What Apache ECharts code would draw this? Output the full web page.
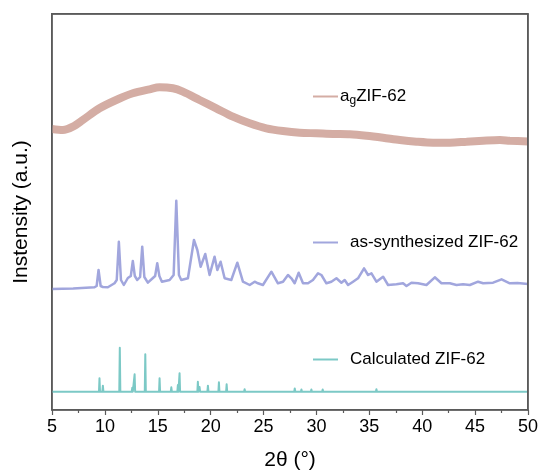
<!DOCTYPE html>
<html>
<head>
<meta charset="utf-8">
<script src="https://cdn.jsdelivr.net/npm/echarts@6/dist/echarts.min.js"></script>
<style>
html,body{margin:0;padding:0;background:#fff;}
#chart{width:542px;height:476px;}
</style>
</head>
<body>
<div id="chart"></div>
<script>
// ---- data (2θ in degrees, intensity in offset arbitrary units) ----
const seriesNames = ['agZIF-62', 'as-synthesized ZIF-62', 'Calculated ZIF-62'];

const amorphous = [[5,281],[6.02,280],[6.97,283.3],[7.91,290],[9.49,301.7],[11.07,310],[12.64,316.7],
  [14.22,320.7],[15.17,322.7],[16.43,321.7],[17.37,318.3],[18.95,310],[20.53,301.7],[22.1,293.3],
  [23.69,286.7],[25.26,281.7],[26.84,279],[28.42,277.3],[29.99,276.7],[31.57,276],[33.15,275.7],
  [34.73,274.3],[36.3,272.3],[37.88,270],[39.46,268.3],[41.03,267.3],[42.61,267.3],[44.19,268.3],
  [45.76,269.3],[47.34,270],[48.28,269.3],[50,268.5]];

const asSynthesized = [[5,121],[7,121.5],[9.02,122.7],[9.22,124],[9.40,140],[9.6,124],[9.81,123],[10.28,122.7],
  [10.91,126.7],[11.12,130],[11.32,168.3],[11.52,130],[11.79,125],[12.17,132],[12.45,134],[12.64,149],[12.83,134],
  [13.06,130],[13.33,133],[13.53,163.3],[13.73,133],[14.06,127.3],[14.54,132],[14.75,134],[14.95,146.7],[15.15,134],
  [15.39,128.3],[16.12,130],[16.5,135],[16.75,209.3],[17.0,135],[17.22,130],[17.85,131.7],[18.42,170],[18.74,160],
  [19.05,143.3],[19.49,156],[19.90,135],[20.37,153.3],[20.63,140],[20.94,148.3],[21.32,131.7],[21.95,130],
  [22.52,147.3],[23.05,128.3],[23.69,125],[24.16,128.3],[24.47,126.7],[24.94,125],[25.74,138.3],[26.36,126.7],
  [26.84,128.3],[27.31,135],[27.63,131.7],[27.94,126.7],[28.32,137.3],[28.73,126.7],[29.20,126.7],[29.67,130],
  [30.15,136.7],[30.47,135],[30.94,126.7],[31.41,128.3],[31.89,131.7],[32.36,127.3],[32.67,130],[32.99,125],
  [33.46,128.3],[33.93,131.7],[34.50,141.7],[34.88,135],[35.20,136.7],[35.67,128.3],[36.30,133.3],[36.77,125],
  [37.56,125.7],[38.19,126.7],[38.51,124],[38.98,127.3],[39.61,126.7],[40.40,125],[41.19,132.7],[41.82,126.7],
  [42.61,126.7],[43.24,125],[43.86,125.7],[44.50,125],[45.28,128.3],[45.76,126.7],[46.70,127.3],[47.50,130.7],
  [48.28,126.7],[49.0,127],[50,126]];

const calcBaseline = 18.3;
const calcPeakTheta = [9.49, 9.81, 11.41, 12.59, 12.81, 13.82, 15.17, 16.28, 16.90, 17.06, 18.79, 18.95, 19.74,
  20.78, 21.51, 22.90, 23.21, 25.58, 27.0, 27.95, 28.58, 29.52, 30.59, 31.25, 32.83, 34.38, 35.67, 36.62,
  38.16, 40.72, 44.5, 47.02];
const calcPeakI = [31.7, 24.3, 62.3, 22.3, 35.7, 55.7, 31.7, 22.7, 25, 36.7, 28.3, 23, 24.3,
  27.7, 25.7, 20, 20.8, 20.3, 20.3, 21.5, 20.5, 20.5, 20.5, 20.3, 20.3, 20.3, 20.8, 20.3,
  19.8, 19.8, 19.8, 19.8];

const xTickMin = 5, xTickMax = 50, xTickStep = 5;
const yMin = 0, yMax = 396;

// ---- build the stick-like calculated pattern from its peak list ----
function buildCalc() {
  const hw = 0.05;
  const pts = [[xTickMin, calcBaseline]];
  calcPeakTheta.forEach((p, i) => {
    pts.push([p - hw, calcBaseline], [p, calcPeakI[i]], [p + hw, calcBaseline]);
  });
  pts.push([xTickMax, calcBaseline]);
  return pts;
}

const FONT = 'Liberation Sans, Arial, Helvetica, sans-serif';
const frame = '#5a5a5a';
const colors = ['#d4ada4', '#a1a6dd', '#7cc9c6'];
const GRID = {left: 52, right: 14, top: 14, bottom: 66};
const W = 542, H = 476;

const chart = echarts.init(document.getElementById('chart'), null, {renderer: 'canvas'});

const richText = {
  n: {fontFamily: FONT, fontSize: 17, fill: '#000', color: '#000'},
  s: {fontFamily: FONT, fontSize: 12, fill: '#000', color: '#000', padding: [9, 0, 0, 0]}
};

function legendGraphic(color, y, textX, text) {
  return [
    {type: 'line', shape: {x1: 313, y1: y + 0.5, x2: 338, y2: y + 0.5}, style: {stroke: color, lineWidth: 2}, silent: true},
    {type: 'text', x: textX, y: y, silent: true,
     style: {text: text, rich: richText, font: '17px ' + FONT, fill: '#000', verticalAlign: 'middle', align: 'left'}}
  ];
}

const frameLine = {show: true, onZero: false, lineStyle: {color: frame, width: 1.5}};

chart.setOption({
  animation: false,
  backgroundColor: '#fff',
  grid: GRID,
  legend: {show: false, data: seriesNames},
  graphic: [
    {type: 'rect', silent: true, z: 50, left: GRID.left - 1, top: GRID.top - 1,
     shape: {x: 0, y: 0, width: W - GRID.left - GRID.right, height: H - GRID.top - GRID.bottom},
     style: {fill: 'rgba(0,0,0,0)', stroke: frame, lineWidth: 1.5}},
    ...legendGraphic(colors[0], 96, 340, '{n|a}{s|g}{n|ZIF-62}'),
    ...legendGraphic(colors[1], 242, 350, '{n|as-synthesized ZIF-62}'),
    ...legendGraphic(colors[2], 359, 350, '{n|Calculated ZIF-62}')
  ],
  xAxis: [{
    type: 'value', min: xTickMin, max: xTickMax, interval: xTickStep, position: 'bottom',
    name: '2θ (°)', nameLocation: 'middle', nameGap: 40,
    nameTextStyle: {fontFamily: FONT, fontSize: 21, color: '#000'},
    axisLine: frameLine,
    axisTick: {show: true, length: 5, lineStyle: {color: frame, width: 1.2}},
    minorTick: {show: true, splitNumber: 2, length: 3, lineStyle: {color: frame, width: 1.2}},
    splitLine: {show: false}, minorSplitLine: {show: false},
    axisLabel: {fontFamily: FONT, fontSize: 18, color: '#000', margin: 8}
  }, {
    type: 'value', min: xTickMin, max: xTickMax, interval: xTickStep, position: 'top',
    axisLine: frameLine, axisTick: {show: false}, axisLabel: {show: false},
    splitLine: {show: false}, minorTick: {show: false}
  }],
  yAxis: [{
    type: 'value', min: yMin, max: yMax, position: 'left',
    name: 'Instensity (a.u.)', nameLocation: 'middle', nameGap: 20,
    nameTextStyle: {fontFamily: FONT, fontSize: 21, color: '#000'},
    axisLine: frameLine,
    axisTick: {show: false}, axisLabel: {show: false}, splitLine: {show: false}
  }, {
    type: 'value', min: yMin, max: yMax, position: 'right',
    axisLine: frameLine, axisTick: {show: false}, axisLabel: {show: false}, splitLine: {show: false}
  }],
  series: [
    {name: seriesNames[0], type: 'line', data: amorphous, showSymbol: false, symbol: 'none', smooth: 0.3,
     lineStyle: {color: colors[0], width: 8}, itemStyle: {color: colors[0]}, z: 2},
    {name: seriesNames[1], type: 'line', data: asSynthesized, showSymbol: false, symbol: 'none',
     lineStyle: {color: colors[1], width: 2.5, join: 'round'}, itemStyle: {color: colors[1]}, z: 3},
    {name: seriesNames[2], type: 'line', data: buildCalc(), showSymbol: false, symbol: 'none',
     lineStyle: {color: colors[2], width: 2, join: 'round'}, itemStyle: {color: colors[2]}, z: 4}
  ]
});
</script>
</body>
</html>
